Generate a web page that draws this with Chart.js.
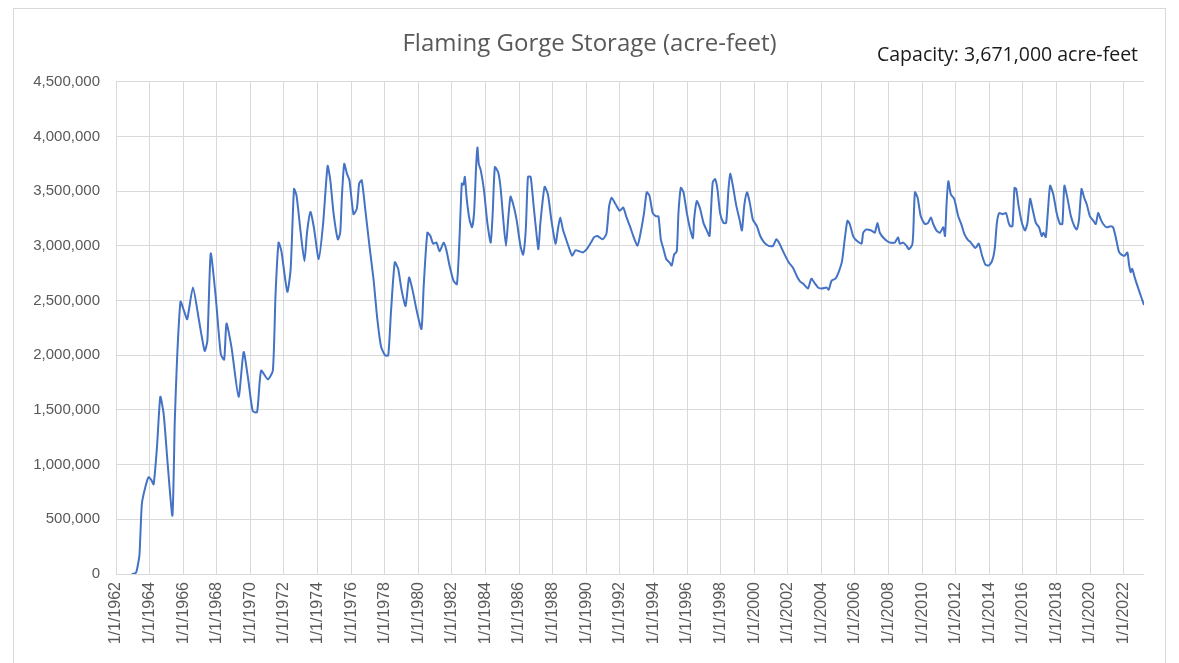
<!DOCTYPE html>
<html>
<head>
<meta charset="utf-8">
<script src="https://cdn.jsdelivr.net/npm/chart.js@4.4.1/dist/chart.umd.min.js"></script>
<style>
  html, body { margin: 0; padding: 0; background: #ffffff; }
  #wrap { position: relative; width: 1179px; height: 663px; }
  #frame { position: absolute; left: 13px; top: 8px; width: 1153px; height: 660px; border: 1px solid #d9d9d9; box-sizing: border-box; pointer-events: none; }
  #cap { position: absolute; left: 877px; top: 41px; font-family: "Open Sans", sans-serif; font-size: 19.5px; line-height: 26px; color: #1a1a1a; white-space: nowrap; }
</style>
</head>
<body>
<div id="wrap">
  <canvas id="c" width="1179" height="663"></canvas>
  <div id="frame"></div>
  <div id="cap">Capacity: 3,671,000 acre-feet</div>
</div>
<script>
// Dates as decimal years
const dates = [
  1962.94,1963.1,1963.2,1963.3,1963.4,1963.54,1963.74,1963.94,1964.1,1964.24,1964.44,1964.64,1964.84,
  1965.08,1965.36,1965.5,1965.64,1965.84,1966.04,1966.24,1966.58,1966.94,1967.28,1967.44,1967.64,1967.94,
  1968.24,1968.44,1968.58,1968.88,1969.3,1969.6,1969.88,1970.14,1970.4,1970.64,1971.04,1971.34,1971.5,1971.68,
  1971.85,1972.2,1972.4,1972.6,1972.75,1972.99,1973.22,1973.38,1973.58,1973.78,1974.07,1974.33,1974.6,1974.76,
  1974.96,1975.21,1975.35,1975.45,1975.59,1975.75,1975.9,1976.14,1976.34,1976.48,1976.63,1976.83,1977.09,
  1977.33,1977.56,1977.78,1978.02,1978.21,1978.37,1978.6,1978.8,1979.0,1979.24,1979.45,1979.65,1979.93,
  1980.19,1980.32,1980.54,1980.72,1980.88,1981.08,1981.27,1981.51,1981.66,1981.86,1982.1,1982.3,
  1982.45,1982.59,1982.69,1982.77,1982.89,1983.05,1983.2,1983.32,1983.44,1983.52,1983.6,1983.72,1983.91,
  1984.11,1984.31,1984.43,1984.56,1984.76,1984.9,1985.06,1985.22,1985.35,1985.49,1985.65,1985.85,1986.08,
  1986.24,1986.4,1986.53,1986.69,1986.87,1987.03,1987.15,1987.27,1987.52,1987.72,1987.92,1988.17,1988.31,
  1988.45,1988.61,1988.8,1989.0,1989.16,1989.36,1989.59,1989.79,1990.03,1990.28,1990.47,1990.67,1990.97,
  1991.2,1991.36,1991.51,1991.75,1991.99,1992.2,1992.4,1992.6,1992.8,1993.05,1993.2,1993.44,1993.6,1993.76,
  1993.96,1994.16,1994.3,1994.44,1994.6,1994.76,1994.95,1995.09,1995.23,1995.39,1995.49,1995.63,1995.79,
  1995.99,1996.19,1996.35,1996.42,1996.58,1996.78,1996.98,1997.18,1997.34,1997.42,1997.53,1997.67,1997.81,
  1997.97,1998.17,1998.33,1998.47,1998.57,1998.73,1998.93,1999.13,1999.27,1999.41,1999.57,1999.73,1999.92,
  2000.16,2000.36,2000.6,2000.86,2001.12,2001.32,2001.51,2001.75,2002.05,2002.31,2002.55,2002.75,2002.95,
  2003.2,2003.4,2003.6,2003.8,2004.04,2004.3,2004.44,2004.6,2004.84,2005.03,2005.23,2005.39,2005.55,2005.69,
  2005.89,2006.09,2006.39,2006.49,2006.68,2006.98,2007.18,2007.34,2007.48,2007.78,2008.08,2008.37,2008.57,
  2008.67,2008.87,2009.07,2009.21,2009.41,2009.47,2009.57,2009.73,2009.92,2010.16,2010.36,2010.52,2010.66,
  2010.86,2011.06,2011.26,2011.36,2011.46,2011.56,2011.71,2011.91,2012.15,2012.35,2012.51,2012.7,2012.9,
  2013.17,2013.37,2013.57,2013.76,2013.96,2014.16,2014.32,2014.45,2014.59,2014.79,2014.99,2015.15,2015.25,
  2015.38,2015.5,2015.6,2015.74,2015.94,2016.13,2016.27,2016.43,2016.57,2016.77,2016.96,2017.12,2017.22,
  2017.36,2017.48,2017.62,2017.81,2018.01,2018.21,2018.35,2018.47,2018.66,2018.86,2019.06,2019.2,2019.34,
  2019.49,2019.65,2019.8,2019.99,2020.19,2020.34,2020.48,2020.64,2020.78,2020.98,2021.23,2021.37,2021.51,
  2021.71,2021.87,2022.06,2022.22,2022.32,2022.42,2022.51,2022.66,2022.85,2023.05,2023.21
];

// Storage in acre-feet
const storage = [
  0,5000,15000,80000,180000,640000,790000,885000,860000,820000,1160000,1620000,1460000,
  1000000,534000,1400000,1980000,2490000,2410000,2330000,2620000,2320000,2040000,2130000,2930000,2530000,
  2010000,1960000,2290000,2070000,1620000,2030000,1770000,1490000,1480000,1860000,1780000,1860000,2560000,3030000,
  2950000,2580000,2790000,3520000,3460000,3130000,2860000,3130000,3310000,3170000,2880000,3200000,3730000,3600000,
  3290000,3060000,3120000,3450000,3750000,3660000,3600000,3290000,3340000,3570000,3600000,3350000,3000000,
  2700000,2330000,2080000,2000000,2000000,2390000,2850000,2790000,2600000,2450000,2710000,2600000,2390000,
  2240000,2630000,3120000,3090000,3020000,3030000,2950000,3030000,2970000,2820000,2680000,2650000,
  3060000,3570000,3560000,3630000,3420000,3240000,3170000,3300000,3720000,3900000,3750000,3690000,3510000,
  3210000,3030000,3300000,3720000,3670000,3530000,3240000,3000000,3240000,3450000,3380000,3240000,3000000,
  2920000,3150000,3630000,3630000,3360000,3120000,2970000,3210000,3540000,3470000,3240000,3020000,3150000,
  3260000,3150000,3060000,2970000,2910000,2960000,2950000,2940000,2970000,3030000,3080000,3090000,3060000,
  3110000,3360000,3440000,3380000,3320000,3350000,3260000,3180000,3090000,3000000,3090000,3300000,3490000,3460000,
  3300000,3270000,3270000,3060000,2970000,2880000,2850000,2820000,2920000,2950000,3300000,3530000,3490000,
  3300000,3150000,3070000,3240000,3410000,3340000,3210000,3140000,3090000,3300000,3580000,3610000,3520000,
  3300000,3210000,3210000,3520000,3660000,3550000,3370000,3240000,3140000,3370000,3490000,3400000,3240000,
  3180000,3090000,3030000,3000000,3000000,3060000,3020000,2940000,2850000,2800000,2720000,2670000,2650000,
  2610000,2700000,2660000,2620000,2610000,2620000,2600000,2680000,2700000,2760000,2860000,3060000,3230000,3200000,
  3090000,3050000,3020000,3120000,3150000,3140000,3120000,3210000,3120000,3060000,3030000,3030000,3080000,
  3020000,3030000,3000000,2970000,3010000,3120000,3490000,3440000,3270000,3200000,3210000,3260000,3200000,
  3140000,3120000,3170000,3090000,3400000,3590000,3470000,3430000,3270000,3190000,3110000,3060000,3030000,
  2980000,3020000,2910000,2830000,2820000,2860000,2970000,3210000,3300000,3290000,3300000,3210000,3180000,
  3180000,3530000,3520000,3370000,3210000,3140000,3210000,3430000,3340000,3210000,3170000,3090000,3120000,
  3080000,3300000,3550000,3470000,3300000,3200000,3200000,3550000,3430000,3270000,3180000,3150000,3240000,
  3520000,3440000,3380000,3270000,3230000,3200000,3300000,3240000,3200000,3170000,3180000,3170000,3090000,
  2950000,2920000,2910000,2940000,2830000,2760000,2790000,2710000,2620000,2530000,2460000
];

const tickYears = [1962,1964,1966,1968,1970,1972,1974,1976,1978,1980,1982,1984,1986,1988,1990,1992,1994,1996,1998,2000,2002,2004,2006,2008,2010,2012,2014,2016,2018,2020,2022];
const tickLabels = tickYears.map(y => "1/1/" + y);
const yTickValues = [0,500000,1000000,1500000,2000000,2500000,3000000,3500000,4000000,4500000];

const points = dates.map((d, i) => ({ x: d, y: storage[i] }));

new Chart(document.getElementById('c'), {
  type: 'line',
  data: {
    datasets: [{
      label: 'Storage',
      data: points,
      borderColor: '#4472c4',
      borderWidth: 2,
      pointRadius: 0,
      tension: 0.2,
      fill: false
    }]
  },
  options: {
    responsive: false,
    animation: false,
    layout: { padding: { left: 0, right: 0, top: 0, bottom: 0 } },
    plugins: {
      legend: { display: false },
      tooltip: { enabled: false },
      title: {
        display: true,
        text: 'Flaming Gorge Storage (acre-feet)',
        color: '#595959',
        font: { family: 'Open Sans', size: 24, weight: 'normal' },
        padding: { top: 30, bottom: 23 }
      }
    },
    scales: {
      x: {
        type: 'linear',
        min: 1962,
        max: 2023.21,
        afterBuildTicks: (scale) => { scale.ticks = tickYears.map(v => ({ value: v })); },
        afterFit: (scale) => { scale.height = 89; },
        ticks: {
          autoSkip: false,
          maxRotation: 90,
          minRotation: 90,
          padding: 8,
          color: '#595959',
          font: { family: 'Liberation Sans', size: 16 },
          callback: (v) => tickLabels[tickYears.indexOf(v)]
        },
        grid: { color: '#d9d9d9', lineWidth: 1, drawTicks: false },
        border: { display: false }
      },
      y: {
        min: 0,
        max: 4500000,
        afterBuildTicks: (scale) => { scale.ticks = yTickValues.map(v => ({ value: v })); },
        afterFit: (scale) => { scale.width = 116; },
        ticks: {
          padding: 16,
          color: '#595959',
          font: { family: 'Liberation Sans', size: 15 },
          callback: (v) => v.toLocaleString('en-US')
        },
        grid: { color: '#d9d9d9', lineWidth: 1, drawTicks: false },
        border: { display: false }
      },
      yRight: {
        position: 'right',
        min: 0,
        max: 4500000,
        afterFit: (scale) => { scale.width = 35; },
        ticks: { display: false },
        grid: { display: false, drawTicks: false },
        border: { display: false }
      }
    }
  }
});
</script>
</body>
</html>
